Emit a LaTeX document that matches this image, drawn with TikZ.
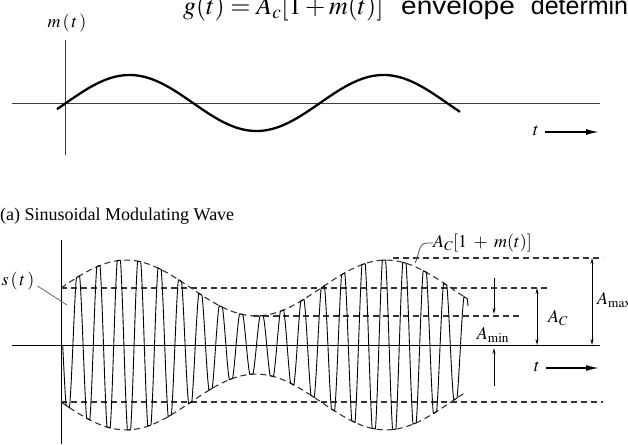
\documentclass[tikz,border=0pt]{standalone}
\usepackage{amsmath}
\usepackage{mathptmx}
\usepackage[no-math]{fontspec}
\setmainfont{Liberation Serif}
\newfontfamily\arialfont{Liberation Sans}
\usepackage{tikz}
\usetikzlibrary{calc}
\usetikzlibrary{arrows.meta}

\begin{document}
\begin{tikzpicture}[x=1pt,y=-1pt]
		\tikzset{lbl/.style={inner sep=0pt,font=\fontsize{18}{20}\selectfont},
			envline/.style={dashed,dash pattern=on 6pt off 4pt,line width=1.1pt,black!80},
			dimarrow/.style={<->,>={Stealth[length=6pt,width=3pt]},line width=0.8pt},
			tarrow/.style={->,>={Latex[length=13pt,width=6pt]},line width=1.6pt},
			axisline/.style={line width=1pt,black!75}}
		\useasboundingbox (0,0) rectangle (628,444);
		% headline, cut at the top
		\node (gt) at (183,15) [anchor=base west,inner sep=0pt,font=\fontsize{26}{28}\selectfont] {$g(t) = A_c[1 + m(t)]$};
		\node (env) at (401,15) [anchor=base west,inner sep=0pt,font=\arialfont\fontsize{25}{28}\selectfont] {\scalebox{1.12}[1]{envelope}\hspace{16pt}determine};
		
		% (a) modulating wave
		\coordinate (a1) at (65,40);
		\coordinate (a2) at (65,155);
		\coordinate (h1) at (12,103);
		\coordinate (h2) at (600,103);
		\node (mt) at (67,23) [lbl] {$m\,(\,t\,)$};
		\path
		(a1)  edge [axisline] (a2)
		(h1)  edge [axisline] (h2);
		\draw[line width=2.3pt] plot[domain=57:460,samples=150] (\x,{103-28*sin((\x-66)/254*360)});
		\node (t1) at (536,131) [lbl] {$t$};
		\coordinate (t1e) at (599,132);
		\draw[tarrow] ($(t1.east)+(6,1)$) -- (t1e);
		\node (capa) at (0,216) [anchor=west,inner sep=0pt,font=\fontsize{18}{20}\selectfont] {(a) Sinusoidal Modulating Wave};
		
		% (b) modulated wave
		\coordinate (b1) at (61,240);
		\coordinate (b2) at (61,444);
		\coordinate (k1) at (12,345);
		\coordinate (k2) at (600,345);
		\path
		(b1)  edge [axisline,black] (b2)
		(k1)  edge [axisline,black] (k2);
		\coordinate (ac1) at (61,288);
		\coordinate (ac2) at (548,288);
		\coordinate (ad1) at (61,402);
		\coordinate (ad2) at (603,402);
		\coordinate (mx1) at (393,258);
		\coordinate (mx2) at (603,258);
		\coordinate (mn1) at (253,316);
		\coordinate (mn2) at (522,316);
		\path
		(ac1)  edge [envline] (ac2)
		(ad1)  edge [envline] (ad2)
		(mx1)  edge [envline] (mx2)
		(mn1)  edge [envline] (mn2);
		\draw[envline] plot[domain=61:466,samples=120] (\x,{345-57*(1+0.49*sin((\x-61)/260*360))});
		\draw[envline] plot[domain=61:466,samples=120] (\x,{345+57*(1+0.49*sin((\x-61)/260*360))});
		\draw[line width=0.9pt,line join=round] plot[domain=62.7:468,samples=1300] (\x,{345+57*(1+0.49*sin((\x-61)/260*360))*max(-1,min(1,1.15*sin((\x-62.7)/20.4*360)))});
		
		\node (st) at (18,281) [lbl] {$s\,(\,t\,)$};
		\coordinate (stp) at (67,305);
		\draw[black!60,line width=0.8pt] ($(st.east)+(3,5)$) -- (stp);
		\node (envlbl) at (433,243) [lbl,anchor=west] {$A_C[1 \;+\; m(t)]$};
		\coordinate (envp) at (415,263);
		\draw[black!70,line width=0.8pt] (envlbl.west) -- ++(-6,0) to[out=180,in=60] (envp);
		
		\coordinate (amx1) at (592,258);
		\coordinate (amx2) at (592,345);
		\coordinate (aac1) at (537,288);
		\coordinate (aac2) at (537,345);
		\path
		(amx1)  edge [dimarrow] (amx2)
		(aac1)  edge [dimarrow] (aac2);
		\node (amax) at (597,300) [lbl,anchor=west] {$A_{\max}$};
		\node (acl) at (558,318) [lbl] {$A_C$};
		\node (amin) at (493,335) [lbl] {$A_{\min}$};
		\coordinate (mu1) at (494,278);
		\coordinate (mu2) at (494,314);
		\coordinate (md1) at (494,386);
		\coordinate (md2) at (494,348);
		\path
		(mu1)  edge [->,>={Stealth[length=6pt,width=3pt]},line width=0.8pt] (mu2)
		(md1)  edge [->,>={Stealth[length=6pt,width=3pt]},line width=0.8pt] (md2);
		\node (t2) at (537,367) [lbl] {$t$};
		\coordinate (t2e) at (599,368);
		\draw[tarrow] ($(t2.east)+(6,1)$) -- (t2e);
	\end{tikzpicture}
\end{document}
